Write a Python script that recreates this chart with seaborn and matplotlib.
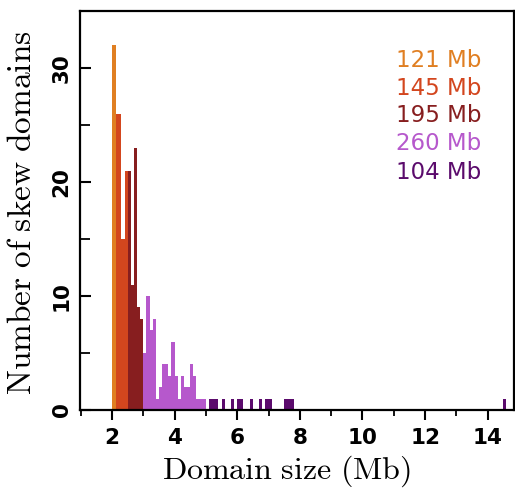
import numpy as np
import pandas as pd
import matplotlib
matplotlib.use("Agg")
import matplotlib.pyplot as plt
import seaborn as sns
from matplotlib.ticker import MultipleLocator

# ---- data ----
groups = ["121 Mb", "145 Mb", "195 Mb", "260 Mb", "104 Mb"]
colors = ["#E07F22", "#D3461E", "#871E1F", "#B658CC", "#5B0B6C"]
binwidths = [0.14, 0.14, 0.1, 0.1, 0.1]

sizes_121 = [2.07]
counts_121 = [32]

sizes_145 = [2.21, 2.35, 2.49]
counts_145 = [26, 15, 21]

sizes_195 = [2.55, 2.65, 2.75, 2.85, 2.95]
counts_195 = [21, 11, 23, 9, 8]

sizes_260 = [3.05, 3.15, 3.25, 3.35, 3.45, 3.55, 3.65, 3.75, 3.85, 3.95,
             4.05, 4.15, 4.25, 4.35, 4.45, 4.55, 4.65, 4.75, 4.85, 4.95]
counts_260 = [5, 10, 7, 8, 1, 2, 4, 4, 3, 6,
              3, 1, 3, 2, 2, 4, 3, 1, 1, 1]

sizes_104 = [5.15, 5.25, 5.35, 5.55, 5.85, 6.05, 6.15, 6.45, 6.75, 6.95,
             7.05, 7.55, 7.65, 7.75, 14.55]
counts_104 = [1] * len(sizes_104)

all_sizes = [sizes_121, sizes_145, sizes_195, sizes_260, sizes_104]
all_counts = [counts_121, counts_145, counts_195, counts_260, counts_104]

xticks = [2, 4, 6, 8, 10, 12, 14]
yticks = [0, 10, 20, 30]

# ---- plot ----
sns.set_theme(style="white")
plt.rcParams["font.family"] = ["DejaVu Sans"]
plt.rcParams["mathtext.fontset"] = "cm"

fig = plt.figure(figsize=(5.15, 4.93), dpi=100)
ax = fig.add_axes([80 / 515, 83 / 493, 434 / 515, 399 / 493])

for g, c, bw, s, n in zip(groups, colors, binwidths, all_sizes, all_counts):
    df = pd.DataFrame({"size": s, "count": n})
    start = min(s) - bw / 2
    stop = max(s) + bw / 2
    sns.histplot(data=df, x="size", weights="count", binwidth=bw,
                 binrange=(start, stop), color=c, alpha=1, linewidth=0,
                 element="bars", ax=ax)

ax.set_xlim(0.98, 14.84)
ax.set_ylim(0, 35)
ax.set_xticks(xticks)
ax.set_yticks(yticks)
ax.xaxis.set_minor_locator(MultipleLocator(1))
ax.yaxis.set_minor_locator(MultipleLocator(5))
ax.tick_params(axis="x", which="major", direction="out", length=7, width=1.5,
               labelsize=15.5, pad=6, color="black", labelcolor="black",
               bottom=True)
ax.tick_params(axis="x", which="minor", direction="out", length=4, width=1.3,
               color="black", bottom=True)
ax.tick_params(axis="y", which="major", direction="in", length=8, width=1.5,
               labelsize=15.5, pad=6, color="black", labelcolor="black",
               left=True)
ax.tick_params(axis="y", which="minor", direction="in", length=7, width=1.3,
               color="black", left=True)
for lab in ax.get_xticklabels() + ax.get_yticklabels():
    lab.set_fontweight("bold")
for lab in ax.get_yticklabels():
    lab.set_rotation(90)
    lab.set_va("center")

for sp in ax.spines.values():
    sp.set_color("black")
    sp.set_linewidth(1.6)

ax.set_xlabel(r"$\mathrm{Domain\ size\ (Mb)}$", fontsize=23, color="black")
ax.set_ylabel(r"$\mathrm{Number\ of\ skew\ domains}$", fontsize=24,
              color="black")
ax.xaxis.set_label_coords(0.475, -0.108)
ax.yaxis.set_label_coords(-0.097, 0.495)

ys = [0.875, 0.807, 0.737, 0.667, 0.595]
for g, c, y in zip(groups, colors, ys):
    ax.text(0.727, y, g, color=c, fontsize=16.5, transform=ax.transAxes,
            ha="left", va="center")

fig.savefig("out.png", dpi=100)
